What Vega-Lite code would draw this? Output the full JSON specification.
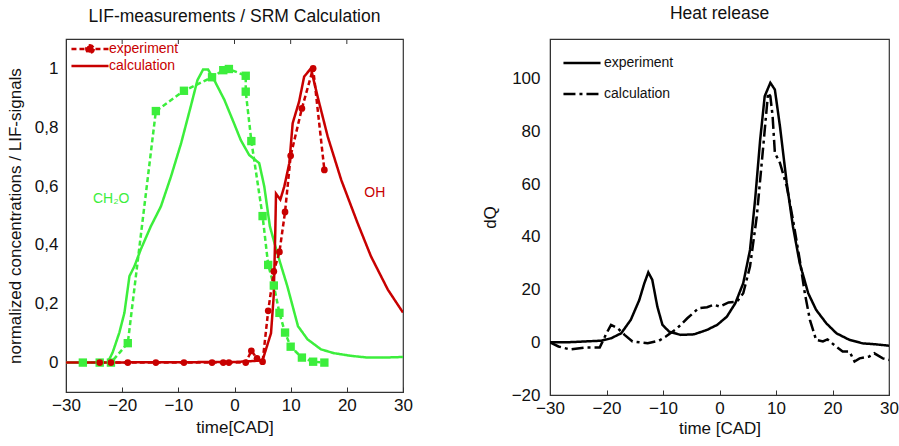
{
  "$schema": "https://vega.github.io/schema/vega-lite/v6.json",
  "padding": {"left": 5, "top": 3, "right": 0, "bottom": 4},
  "background": "white",
  "datasets": {
    "left": [
      {"s": "CH2O", "k": "experiment", "i": 1, "t": -27, "v": 0},
      {"s": "CH2O", "k": "experiment", "i": 2, "t": -24, "v": 0},
      {"s": "CH2O", "k": "experiment", "i": 3, "t": -22, "v": 0},
      {"s": "CH2O", "k": "experiment", "i": 4, "t": -19, "v": 0.066},
      {"s": "CH2O", "k": "experiment", "i": 5, "t": -14, "v": 0.855},
      {"s": "CH2O", "k": "experiment", "i": 6, "t": -9, "v": 0.924},
      {"s": "CH2O", "k": "experiment", "i": 7, "t": -4, "v": 0.97},
      {"s": "CH2O", "k": "experiment", "i": 8, "t": -2, "v": 0.994},
      {"s": "CH2O", "k": "experiment", "i": 9, "t": -1, "v": 0.998},
      {"s": "CH2O", "k": "experiment", "i": 10, "t": 2, "v": 0.975},
      {"s": "CH2O", "k": "experiment", "i": 11, "t": 2, "v": 0.921},
      {"s": "CH2O", "k": "experiment", "i": 12, "t": 3, "v": 0.753},
      {"s": "CH2O", "k": "experiment", "i": 13, "t": 5, "v": 0.498},
      {"s": "CH2O", "k": "experiment", "i": 14, "t": 6, "v": 0.332},
      {"s": "CH2O", "k": "experiment", "i": 15, "t": 7, "v": 0.262},
      {"s": "CH2O", "k": "experiment", "i": 16, "t": 8, "v": 0.169},
      {"s": "CH2O", "k": "experiment", "i": 17, "t": 9, "v": 0.102},
      {"s": "CH2O", "k": "experiment", "i": 18, "t": 10, "v": 0.054},
      {"s": "CH2O", "k": "experiment", "i": 19, "t": 12, "v": 0.017},
      {"s": "CH2O", "k": "experiment", "i": 20, "t": 14, "v": 0.003},
      {"s": "CH2O", "k": "experiment", "i": 21, "t": 16, "v": 0.0},
      {"s": "CH2O", "k": "calculation", "i": 1, "t": -30, "v": 0},
      {"s": "CH2O", "k": "calculation", "i": 2, "t": -22.6, "v": 0},
      {"s": "CH2O", "k": "calculation", "i": 3, "t": -21.7, "v": 0.034},
      {"s": "CH2O", "k": "calculation", "i": 4, "t": -20.5, "v": 0.102},
      {"s": "CH2O", "k": "calculation", "i": 5, "t": -19.6, "v": 0.169},
      {"s": "CH2O", "k": "calculation", "i": 6, "t": -18.7, "v": 0.294},
      {"s": "CH2O", "k": "calculation", "i": 7, "t": -17.8, "v": 0.328},
      {"s": "CH2O", "k": "calculation", "i": 8, "t": -16.7, "v": 0.384},
      {"s": "CH2O", "k": "calculation", "i": 9, "t": -14.9, "v": 0.463},
      {"s": "CH2O", "k": "calculation", "i": 10, "t": -13.1, "v": 0.531},
      {"s": "CH2O", "k": "calculation", "i": 11, "t": -11.3, "v": 0.633},
      {"s": "CH2O", "k": "calculation", "i": 12, "t": -9.5, "v": 0.746},
      {"s": "CH2O", "k": "calculation", "i": 13, "t": -7.8, "v": 0.87},
      {"s": "CH2O", "k": "calculation", "i": 14, "t": -6.6, "v": 0.96},
      {"s": "CH2O", "k": "calculation", "i": 15, "t": -5.6, "v": 0.996},
      {"s": "CH2O", "k": "calculation", "i": 16, "t": -4.7, "v": 0.996},
      {"s": "CH2O", "k": "calculation", "i": 17, "t": -3.6, "v": 0.96},
      {"s": "CH2O", "k": "calculation", "i": 18, "t": -1.8, "v": 0.893},
      {"s": "CH2O", "k": "calculation", "i": 19, "t": -0.1, "v": 0.814},
      {"s": "CH2O", "k": "calculation", "i": 20, "t": 1.1, "v": 0.757},
      {"s": "CH2O", "k": "calculation", "i": 21, "t": 2.6, "v": 0.706},
      {"s": "CH2O", "k": "calculation", "i": 22, "t": 4.4, "v": 0.678},
      {"s": "CH2O", "k": "calculation", "i": 23, "t": 5.3, "v": 0.599},
      {"s": "CH2O", "k": "calculation", "i": 24, "t": 6.3, "v": 0.463},
      {"s": "CH2O", "k": "calculation", "i": 25, "t": 7.6, "v": 0.373},
      {"s": "CH2O", "k": "calculation", "i": 26, "t": 9.4, "v": 0.26},
      {"s": "CH2O", "k": "calculation", "i": 27, "t": 11.3, "v": 0.124},
      {"s": "CH2O", "k": "calculation", "i": 28, "t": 13.0, "v": 0.079},
      {"s": "CH2O", "k": "calculation", "i": 29, "t": 15.4, "v": 0.045},
      {"s": "CH2O", "k": "calculation", "i": 30, "t": 17.7, "v": 0.032},
      {"s": "CH2O", "k": "calculation", "i": 31, "t": 20.7, "v": 0.023},
      {"s": "CH2O", "k": "calculation", "i": 32, "t": 23.7, "v": 0.017},
      {"s": "CH2O", "k": "calculation", "i": 33, "t": 26.6, "v": 0.017},
      {"s": "CH2O", "k": "calculation", "i": 34, "t": 30, "v": 0.019},
      {"s": "OH", "k": "experiment", "i": 1, "t": -24, "v": 0},
      {"s": "OH", "k": "experiment", "i": 2, "t": -22, "v": 0},
      {"s": "OH", "k": "experiment", "i": 3, "t": -19, "v": 0},
      {"s": "OH", "k": "experiment", "i": 4, "t": -14, "v": 0},
      {"s": "OH", "k": "experiment", "i": 5, "t": -9, "v": 0},
      {"s": "OH", "k": "experiment", "i": 6, "t": -4, "v": 0},
      {"s": "OH", "k": "experiment", "i": 7, "t": -2, "v": 0},
      {"s": "OH", "k": "experiment", "i": 8, "t": -1, "v": 0},
      {"s": "OH", "k": "experiment", "i": 9, "t": 2, "v": 0},
      {"s": "OH", "k": "experiment", "i": 10, "t": 3, "v": 0.04},
      {"s": "OH", "k": "experiment", "i": 11, "t": 4, "v": 0.014},
      {"s": "OH", "k": "experiment", "i": 12, "t": 5, "v": 0.003},
      {"s": "OH", "k": "experiment", "i": 13, "t": 6, "v": 0.176},
      {"s": "OH", "k": "experiment", "i": 14, "t": 7, "v": 0.31},
      {"s": "OH", "k": "experiment", "i": 15, "t": 8, "v": 0.376},
      {"s": "OH", "k": "experiment", "i": 16, "t": 9, "v": 0.512},
      {"s": "OH", "k": "experiment", "i": 17, "t": 10, "v": 0.703},
      {"s": "OH", "k": "experiment", "i": 18, "t": 12, "v": 0.864},
      {"s": "OH", "k": "experiment", "i": 19, "t": 14, "v": 1.0},
      {"s": "OH", "k": "experiment", "i": 20, "t": 16, "v": 0.655},
      {"s": "OH", "k": "calculation", "i": 1, "t": -30, "v": 0},
      {"s": "OH", "k": "calculation", "i": 2, "t": 0, "v": 0.002},
      {"s": "OH", "k": "calculation", "i": 3, "t": 4, "v": 0.006},
      {"s": "OH", "k": "calculation", "i": 4, "t": 5, "v": 0.008},
      {"s": "OH", "k": "calculation", "i": 5, "t": 6.5, "v": 0.1},
      {"s": "OH", "k": "calculation", "i": 6, "t": 6.98, "v": 0.226},
      {"s": "OH", "k": "calculation", "i": 7, "t": 7.27, "v": 0.452},
      {"s": "OH", "k": "calculation", "i": 8, "t": 7.39, "v": 0.574},
      {"s": "OH", "k": "calculation", "i": 9, "t": 8.16, "v": 0.554},
      {"s": "OH", "k": "calculation", "i": 10, "t": 8.87, "v": 0.599},
      {"s": "OH", "k": "calculation", "i": 11, "t": 9.76, "v": 0.678},
      {"s": "OH", "k": "calculation", "i": 12, "t": 10.36, "v": 0.814},
      {"s": "OH", "k": "calculation", "i": 13, "t": 11.5, "v": 0.887},
      {"s": "OH", "k": "calculation", "i": 14, "t": 12.4, "v": 0.972},
      {"s": "OH", "k": "calculation", "i": 15, "t": 13.6, "v": 1.0},
      {"s": "OH", "k": "calculation", "i": 16, "t": 14.8, "v": 0.904},
      {"s": "OH", "k": "calculation", "i": 17, "t": 16.6, "v": 0.768},
      {"s": "OH", "k": "calculation", "i": 18, "t": 19.0, "v": 0.621},
      {"s": "OH", "k": "calculation", "i": 19, "t": 21.9, "v": 0.475},
      {"s": "OH", "k": "calculation", "i": 20, "t": 24.3, "v": 0.361},
      {"s": "OH", "k": "calculation", "i": 21, "t": 27.3, "v": 0.248},
      {"s": "OH", "k": "calculation", "i": 22, "t": 30, "v": 0.17}
    ],
    "right": [
      {"k": "experiment", "t": -30, "v": 0},
      {"k": "experiment", "t": -26.8, "v": 0},
      {"k": "experiment", "t": -20.9, "v": 0.6},
      {"k": "experiment", "t": -19.2, "v": 1.5},
      {"k": "experiment", "t": -17.4, "v": 3.4},
      {"k": "experiment", "t": -15.7, "v": 8.5},
      {"k": "experiment", "t": -14.2, "v": 16},
      {"k": "experiment", "t": -13.3, "v": 22.4},
      {"k": "experiment", "t": -12.6, "v": 26.5},
      {"k": "experiment", "t": -11.9, "v": 23.7},
      {"k": "experiment", "t": -11.0, "v": 13.5},
      {"k": "experiment", "t": -10.1, "v": 6.6},
      {"k": "experiment", "t": -8.9, "v": 4},
      {"k": "experiment", "t": -6.9, "v": 2.8},
      {"k": "experiment", "t": -4.5, "v": 3.0},
      {"k": "experiment", "t": -2.2, "v": 4.7},
      {"k": "experiment", "t": -0.4, "v": 6.6},
      {"k": "experiment", "t": 1.3, "v": 9.7},
      {"k": "experiment", "t": 2.8, "v": 14.8},
      {"k": "experiment", "t": 4.2, "v": 22.4},
      {"k": "experiment", "t": 5.4, "v": 35},
      {"k": "experiment", "t": 6.3, "v": 54},
      {"k": "experiment", "t": 7.2, "v": 76.8},
      {"k": "experiment", "t": 8.0, "v": 93.3},
      {"k": "experiment", "t": 9.0, "v": 98.4},
      {"k": "experiment", "t": 9.8, "v": 95.8},
      {"k": "experiment", "t": 10.7, "v": 81.9},
      {"k": "experiment", "t": 11.9, "v": 60.4},
      {"k": "experiment", "t": 13.0, "v": 43.9},
      {"k": "experiment", "t": 14.2, "v": 30},
      {"k": "experiment", "t": 15.7, "v": 18.6},
      {"k": "experiment", "t": 17.1, "v": 12.3},
      {"k": "experiment", "t": 18.9, "v": 7.2},
      {"k": "experiment", "t": 20.7, "v": 3.4},
      {"k": "experiment", "t": 23.0, "v": 0.9},
      {"k": "experiment", "t": 25.3, "v": -0.4},
      {"k": "experiment", "t": 27.7, "v": -0.8},
      {"k": "experiment", "t": 30, "v": -1.3},
      {"k": "calculation", "t": -30, "v": 0},
      {"k": "calculation", "t": -28.5, "v": -1.6},
      {"k": "calculation", "t": -26.5, "v": -2.7},
      {"k": "calculation", "t": -23.8, "v": -2},
      {"k": "calculation", "t": -21.2, "v": -2},
      {"k": "calculation", "t": -20, "v": 3.4},
      {"k": "calculation", "t": -19.2, "v": 6.6},
      {"k": "calculation", "t": -18.0, "v": 5.3},
      {"k": "calculation", "t": -16.8, "v": 2.8},
      {"k": "calculation", "t": -15.4, "v": 0.3},
      {"k": "calculation", "t": -12.7, "v": -0.4},
      {"k": "calculation", "t": -10.7, "v": 0.6},
      {"k": "calculation", "t": -9.5, "v": 2.2},
      {"k": "calculation", "t": -7.5, "v": 5.3},
      {"k": "calculation", "t": -5.7, "v": 9.1},
      {"k": "calculation", "t": -3.7, "v": 12.9},
      {"k": "calculation", "t": -2.2, "v": 13.3},
      {"k": "calculation", "t": -1.0, "v": 14.2},
      {"k": "calculation", "t": 0.1, "v": 13.5},
      {"k": "calculation", "t": 1.6, "v": 15.1},
      {"k": "calculation", "t": 3.1, "v": 15.4},
      {"k": "calculation", "t": 4.2, "v": 18.6},
      {"k": "calculation", "t": 5.4, "v": 28.7},
      {"k": "calculation", "t": 6.6, "v": 47.7},
      {"k": "calculation", "t": 7.8, "v": 75.6},
      {"k": "calculation", "t": 8.6, "v": 94.6},
      {"k": "calculation", "t": 9.0, "v": 93.3},
      {"k": "calculation", "t": 9.4, "v": 85.7},
      {"k": "calculation", "t": 9.8, "v": 71.8},
      {"k": "calculation", "t": 10.7, "v": 68},
      {"k": "calculation", "t": 11.9, "v": 59.1},
      {"k": "calculation", "t": 13.0, "v": 46.5},
      {"k": "calculation", "t": 14.2, "v": 31.3},
      {"k": "calculation", "t": 15.1, "v": 18.6},
      {"k": "calculation", "t": 16.0, "v": 8.5},
      {"k": "calculation", "t": 17.1, "v": 0.9},
      {"k": "calculation", "t": 18.3, "v": 0.3},
      {"k": "calculation", "t": 19.1, "v": 1.1},
      {"k": "calculation", "t": 20.6, "v": -1.6},
      {"k": "calculation", "t": 21.8, "v": -3.5},
      {"k": "calculation", "t": 23.0, "v": -3.5},
      {"k": "calculation", "t": 23.9, "v": -7.3},
      {"k": "calculation", "t": 24.8, "v": -6.1},
      {"k": "calculation", "t": 26.5, "v": -5.4},
      {"k": "calculation", "t": 27.4, "v": -4.2},
      {"k": "calculation", "t": 28.9, "v": -6.1},
      {"k": "calculation", "t": 30, "v": -6.7}
    ]
  },
  "resolve": {
    "scale": {"x": "independent", "y": "independent", "color": "independent", "strokeDash": "independent", "shape": "independent", "size": "independent"},
    "legend": {"strokeDash": "independent"},
    "axis": {"x": "independent", "y": "independent"}
  },
  "hconcat": [
    {
      "title": {"text": "LIF-measurements / SRM Calculation", "fontSize": 17.5, "fontWeight": "normal", "font": "Liberation Sans", "color": "#111", "offset": 13},
      "width": 337,
      "height": 353,
      "data": {"name": "left"},
      "layer": [
        {
          "mark": {"type": "line", "strokeWidth": 2.5, "clip": true},
          "encoding": {
            "x": {"field": "t", "type": "quantitative", "scale": {"domain": [-30, 30], "nice": false},
              "axis": {"orient": "bottom", "title": "time[CAD]", "values": [-30, -20, -10, 0, 10, 20, 30], "tickSize": -5, "labelPadding": 10, "titlePadding": 6}},
            "y": {"field": "v", "type": "quantitative", "scale": {"domain": [-0.1, 1.1], "nice": false},
              "axis": {"title": "normalized concentrations / LIF-signals", "values": [0, 0.2, 0.4, 0.6, 0.8, 1], "ticks": false, "labelPadding": 8, "titlePadding": 10,
                "labelExpr": "replace(format(datum.value, '~g'), '.', ',')"}},
            "color": {"field": "s", "type": "nominal", "scale": {"domain": ["CH2O", "OH"], "range": ["#3cee3c", "#c80000"]}, "legend": null},
            "strokeDash": {"field": "k", "type": "nominal", "scale": {"domain": ["experiment", "calculation"], "range": [[5, 3], [1, 0]]},
              "legend": {"title": null, "orient": "none", "legendX": 17, "legendY": 3, "labelColor": "#c80000", "labelFontSize": 14, "labelFont": "Liberation Sans",
                "symbolStrokeColor": "#c80000", "symbolFillColor": "#c80000", "symbolStrokeWidth": 2.5, "symbolSize": 55, "rowPadding": 1, "labelOffset": 12,
                "encode": {"symbols": {"update": {"shape": {"signal": "datum.value === 'experiment' ? 'M-5,0H5M1,0A1,1,0,1,1,-1,0A1,1,0,1,1,1,0Z' : 'M-5,0H5'"}}}}}},
            "order": {"field": "i", "type": "quantitative"}
          }
        },
        {
          "transform": [{"filter": "datum.k === 'experiment'"}],
          "mark": {"type": "point", "filled": true, "opacity": 1},
          "encoding": {
            "x": {"field": "t", "type": "quantitative"},
            "y": {"field": "v", "type": "quantitative"},
            "color": {"field": "s", "type": "nominal", "legend": null},
            "shape": {"field": "s", "type": "nominal", "scale": {"domain": ["CH2O", "OH"], "range": ["square", "circle"]}, "legend": null},
            "size": {"field": "s", "type": "nominal", "scale": {"domain": ["CH2O", "OH"], "range": [70, 45]}, "legend": null}
          }
        },
        {
          "data": {"values": [{"t": -20}, {"t": -10}, {"t": 0}, {"t": 10}, {"t": 20}]},
          "mark": {"type": "rule", "color": "#333", "strokeWidth": 1},
          "encoding": {
            "x": {"field": "t", "type": "quantitative"},
            "y": {"datum": 1.1, "type": "quantitative"},
            "y2": {"datum": 1.083}
          }
        },
        {
          "data": {"values": [{}]},
          "mark": {"type": "text", "text": "CH₂O", "color": "#3cee3c", "fontSize": 14, "font": "Liberation Sans", "align": "left", "baseline": "middle"},
          "encoding": {"x": {"datum": -25.2, "type": "quantitative"}, "y": {"datum": 0.555, "type": "quantitative"}}
        },
        {
          "data": {"values": [{}]},
          "mark": {"type": "text", "text": "OH", "color": "#c80000", "fontSize": 14, "font": "Liberation Sans", "align": "left", "baseline": "middle"},
          "encoding": {"x": {"datum": 23.1, "type": "quantitative"}, "y": {"datum": 0.575, "type": "quantitative"}}
        }
      ]
    },
    {
      "title": {"text": "Heat release", "fontSize": 17.5, "fontWeight": "normal", "font": "Liberation Sans", "color": "#111", "offset": 17},
      "width": 339,
      "height": 356,
      "data": {"name": "right"},
      "mark": {"type": "line", "strokeWidth": 2.5, "color": "#000", "clip": true},
      "encoding": {
        "x": {"field": "t", "type": "quantitative", "scale": {"domain": [-30, 30], "nice": false},
          "axis": {"title": "time [CAD]", "values": [-30, -20, -10, 0, 10, 20, 30], "tickSize": -5, "labelPadding": 10, "titlePadding": 4}},
        "y": {"field": "v", "type": "quantitative", "scale": {"domain": [-20, 115], "nice": false},
          "axis": {"title": "dQ", "values": [-20, 0, 20, 40, 60, 80, 100], "ticks": false, "labelPadding": 10, "titlePadding": 12}},
        "strokeDash": {"field": "k", "type": "nominal", "scale": {"domain": ["experiment", "calculation"], "range": [[1, 0], [12, 4, 3, 4]]},
          "legend": {"title": null, "orient": "none", "legendX": 25, "legendY": 17, "labelColor": "#111", "labelFontSize": 14, "labelFont": "Liberation Sans",
            "symbolStrokeColor": "#000", "symbolStrokeWidth": 2.5, "symbolSize": 55, "rowPadding": 17, "labelOffset": 15,
            "encode": {"symbols": {"update": {"shape": {"value": "M-5,0H5"}}}}}}
      }
    }
  ],
  "spacing": 66,
  "config": {
    "view": {"stroke": "#333", "strokeWidth": 1.2},
    "axis": {"labelFont": "Liberation Sans", "titleFont": "Liberation Sans", "labelFontSize": 17, "titleFontSize": 17, "titleFontWeight": "normal",
      "grid": false, "labelColor": "#111", "titleColor": "#111", "domainColor": "#333", "tickColor": "#333", "domain": true, "labelFlush": false}
  }
}
